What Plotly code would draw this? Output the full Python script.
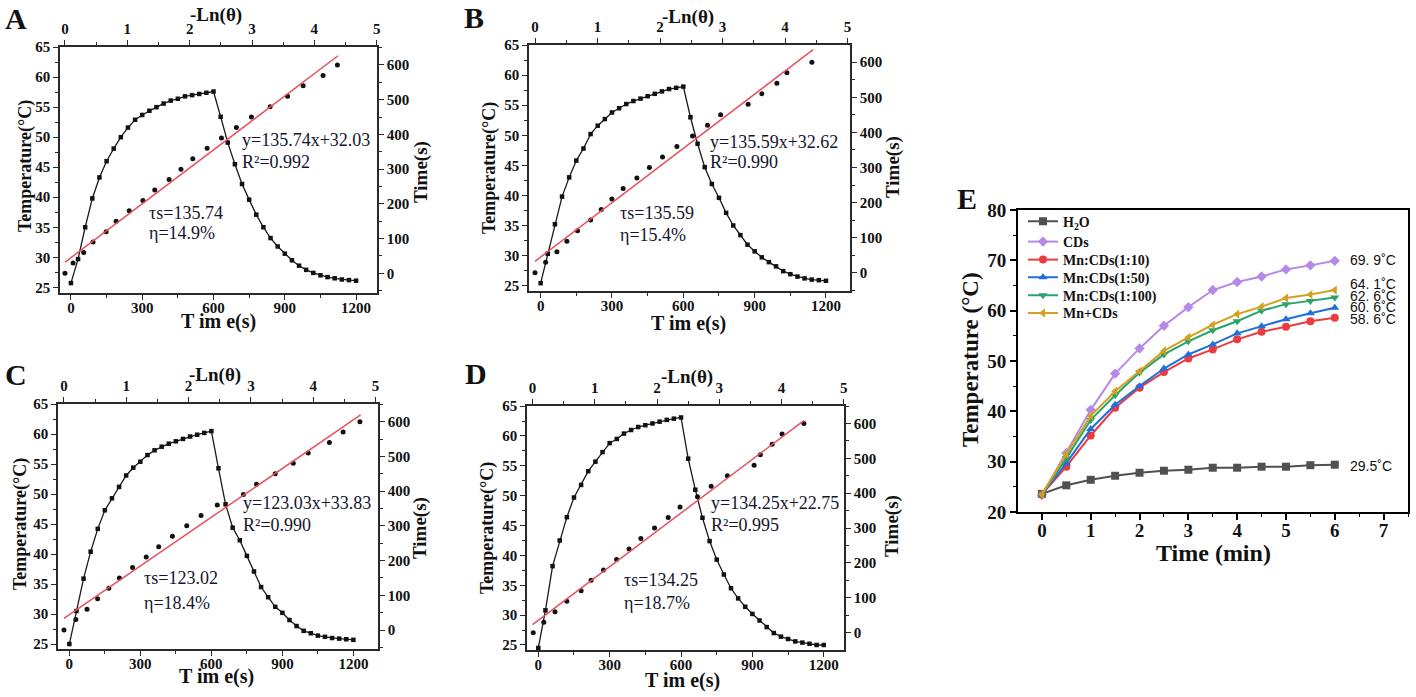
import plotly.graph_objects as go

W, H = 1416, 697
SERIF = "Liberation Serif"
SANS = "Liberation Sans"

# ---------------- Panels A-D: heating / cooling curves ----------------
time_curve = [0, 30, 60, 90, 120, 150, 180, 210, 240, 270, 300, 330, 360, 390, 420,
              450, 480, 510, 540, 570, 600, 630, 660, 690, 720, 750, 780, 810, 840,
              870, 900, 930, 960, 990, 1020, 1050, 1080, 1110, 1140, 1170, 1200]

temp_A = [25.7, 29.7, 35.0, 39.8, 43.3, 46.0, 48.1, 50.0, 51.6, 52.9, 53.7, 54.4, 55.0,
          55.6, 56.1, 56.4, 56.8, 57.0, 57.2, 57.4, 57.6,
          53.4, 49.1, 45.5, 42.2, 39.6, 37.1, 35.0, 33.2, 31.8, 30.6, 29.5, 28.6, 27.9,
          27.4, 27.0, 26.7, 26.5, 26.3, 26.2, 26.1]
temp_B = [25.4, 30.3, 35.2, 39.8, 43.0, 45.8, 47.8, 50.2, 51.6, 52.7, 53.8, 54.5, 55.2,
          55.7, 56.1, 56.5, 56.9, 57.3, 57.7, 57.9, 58.1,
          53.0, 48.6, 44.7, 41.9, 39.6, 37.1, 35.0, 33.4, 31.8, 30.7, 29.7, 28.9, 28.2,
          27.4, 26.9, 26.5, 26.2, 26.0, 25.9, 25.8]
temp_C = [25.0, 30.5, 35.9, 40.4, 44.2, 47.3, 49.3, 51.2, 53.1, 54.4, 55.4, 56.5, 57.3,
          57.9, 58.4, 58.8, 59.2, 59.6, 59.9, 60.2, 60.5,
          54.3, 48.3, 44.4, 42.3, 39.7, 37.1, 34.5, 32.8, 31.2, 30.2, 29.0, 28.0, 27.2,
          26.8, 26.4, 26.2, 26.0, 25.9, 25.8, 25.7]
temp_D = [24.5, 30.8, 38.2, 42.5, 46.4, 49.7, 51.8, 54.1, 55.7, 57.3, 58.8, 59.5, 60.4,
          61.0, 61.5, 61.8, 62.1, 62.4, 62.7, 62.9, 63.1,
          56.2, 51.0, 46.3, 42.4, 39.3, 36.8, 34.5, 32.8, 31.4, 30.2, 29.1, 28.0, 27.0,
          26.4, 26.0, 25.6, 25.4, 25.2, 25.0, 25.0]

# -Ln(theta) vs cooling time points
time_fit = [0, 30, 60, 90, 120, 150, 180, 210, 240, 270, 300, 330, 360, 390, 420,
            450, 480, 510, 540, 570, 600]
lnth_A = [0.00, 0.13, 0.30, 0.45, 0.66, 0.82, 1.03, 1.25, 1.44, 1.67, 1.86, 2.05, 2.28,
          2.51, 2.75, 2.99, 3.29, 3.57, 3.82, 4.14, 4.37]
lnth_B = [0.00, 0.17, 0.35, 0.51, 0.68, 0.89, 1.06, 1.23, 1.41, 1.63, 1.83, 2.04, 2.27,
          2.52, 2.76, 2.97, 3.41, 3.63, 3.87, 4.03, 4.43]
lnth_C = [0.00, 0.19, 0.37, 0.54, 0.72, 0.89, 1.10, 1.32, 1.52, 1.74, 1.97, 2.20, 2.46,
          2.88, 3.09, 3.39, 3.68, 3.92, 4.26, 4.48, 4.75]
lnth_D = [0.01, 0.18, 0.36, 0.55, 0.78, 0.94, 1.14, 1.35, 1.55, 1.74, 1.96, 2.18, 2.37,
          2.65, 2.87, 3.13, 3.56, 3.66, 3.85, 4.01, 4.36]

# linear fits (slope, intercept, x extent of fitted line)
fit_slope = [135.74, 135.59, 123.03, 134.25]
fit_icpt = [32.03, 32.62, 33.83, 22.75]
fit_xmin = [0.0, 0.0, 0.0, 0.0]
fit_xmax = [4.38, 4.45, 4.76, 4.36]

panel_letters = ["A", "B", "C", "D"]
eq_texts = ["y=135.74x+32.03", "y=135.59x+32.62", "y=123.03x+33.83", "y=134.25x+22.75"]
r2_texts = ["R²=0.992", "R²=0.990", "R²=0.990", "R²=0.995"]
tau_texts = ["τs=135.74", "τs=135.59", "τs=123.02", "τs=134.25"]
eta_texts = ["η=14.9%", "η=15.4%", "η=18.4%", "η=18.7%"]

bottom_ticks = [0, 300, 600, 900, 1200]

# ---------------- Panel E ----------------
e_time = [0, 0.5, 1, 1.5, 2, 2.5, 3, 3.5, 4, 4.5, 5, 5.5, 6]
e_h2o = [23.6, 25.3, 26.4, 27.2, 27.8, 28.2, 28.4, 28.8, 28.8, 29.0, 29.0, 29.3, 29.4]
e_cds = [23.4, 31.7, 40.3, 47.5, 52.5, 57.0, 60.7, 64.1, 65.7, 66.8, 68.2, 69.0, 69.9]
e_mn10 = [23.5, 29.0, 35.2, 40.7, 44.7, 47.8, 50.5, 52.3, 54.3, 55.8, 56.8, 57.9, 58.6]
e_mn50 = [23.5, 29.7, 36.5, 41.3, 45.0, 48.5, 51.3, 53.3, 55.5, 56.9, 58.3, 59.5, 60.6]
e_mn100 = [23.5, 30.7, 38.3, 43.2, 47.7, 51.3, 53.9, 56.1, 57.9, 60.0, 61.3, 61.9, 62.6]
e_mncds = [23.5, 31.5, 39.1, 44.0, 48.0, 52.0, 54.7, 57.2, 59.3, 60.8, 62.5, 63.2, 64.1]
e_names = ["H<sub>2</sub>O", "CDs", "Mn:CDs(1:10)", "Mn:CDs(1:50)", "Mn:CDs(1:100)", "Mn+CDs"]
e_end_labels = ["29.5˚C", "69. 9˚C", "58. 6˚C", "60. 6˚C", "62. 6˚C", "64. 1˚C"]

# ---------------- styling / layout (pixels) ----------------
e_colors = ["#505050", "#b48ae6", "#ec3b3e", "#1f6fdc", "#28a46c", "#d4a020"]
e_symbols = ["square", "diamond", "circle", "triangle-up", "triangle-down", "triangle-left"]
e_label_ypos = [29.1, 70.0, 58.3, 60.8, 62.9, 65.3]
e_legend_rows = [221.7, 242.0, 260.0, 277.7, 295.7, 313.3]   # px, row centres

# plot area [left, right, top, bottom] in px
pan_box = [(60, 377, 47, 293), (529, 850, 45, 291), (58, 378, 404, 649), (527, 844, 406, 650)]
pan_xr = [(-46, 1288), (-49, 1301), (-48, 1304), (-47.5, 1285)]
pan_yr = [(24.05, 65.02), (24.1, 65.02), (24.17, 65.02), (24.16, 65.02)]
pan_txr = [(-0.08, 5.005), (-0.096, 5.04), (-0.096, 5.04), (-0.09, 5.005)]
pan_ryr = [(-56.7, 651.8), (-52, 649), (-54.7, 651), (-49.8, 650)]

# annotation positions in px
pos_letter = [(16, 18), (474, 17), (16, 375), (476, 373)]
pos_ylab = [(25, 166), (490, 168), (20, 524), (487, 528)]
pos_rlab = [(421, 172), (893, 167), (420, 528), (892, 526)]
pos_xlab = [(218, 322), (688, 323), (216, 676), (682, 680)]
pos_tlab = [(216, 15), (688, 17), (215, 375), (687, 377)]
pos_eq = [(240, 140), (708, 142), (241, 503), (709, 503)]
pos_r2 = [(240, 162), (708, 162), (241, 525), (709, 525)]
pos_tau = [(147, 213), (618, 213), (142, 578), (622, 580)]
pos_eta = [(147, 233), (618, 235), (142, 603), (622, 603)]

E_BOX = (1018, 1408, 210, 512)


def px_x(v):
    return v / W


def px_y(v):
    return 1 - v / H


def ref(p, n):
    return p if n == 1 else f"{p}{n}"


def lname(p, n):
    return f"{p}axis" if n == 1 else f"{p}axis{n}"


AXC = "#2a2a2a"
tickfont = dict(family=SERIF, size=15, color="#111111", weight="bold")


def base_axis(**kw):
    d = dict(showline=True, linecolor=AXC, linewidth=1.6, ticks="outside", ticklen=5,
             tickwidth=1.4, tickcolor=AXC, showgrid=False, zeroline=False,
             tickfont=tickfont, fixedrange=True, automargin=False)
    d.update(kw)
    return d


fig = go.Figure()
layout = {}
annotations = []


def ann(text, xy, size, anchor="center", angle=0, bold=False, family=SERIF, color="#111111"):
    annotations.append(dict(
        text=text, x=px_x(xy[0]), y=px_y(xy[1]), xref="paper", yref="paper",
        xanchor=anchor, yanchor="middle", showarrow=False, textangle=angle,
        font=dict(family=family, size=size, color=color, weight="bold" if bold else "normal")))


temps = [temp_A, temp_B, temp_C, temp_D]
lnths = [lnth_A, lnth_B, lnth_C, lnth_D]

for i in range(4):
    b = 2 * i + 1
    t = b + 1
    L, R, T, B = pan_box[i]
    xdom = [px_x(L), px_x(R)]
    ydom = [px_y(B), px_y(T)]

    layout[lname("x", b)] = base_axis(domain=xdom, range=list(pan_xr[i]), anchor=ref("y", b),
                                      side="bottom", tickmode="array", tickvals=bottom_ticks,
                                      ticklabelstandoff=-5,
                                      minor=dict(tick0=0, dtick=150, ticks="outside", ticklen=3,
                                                 tickcolor=AXC, tickwidth=1))
    layout[lname("y", b)] = base_axis(domain=ydom, range=list(pan_yr[i]), anchor=ref("x", b),
                                      side="left", tick0=25, dtick=5,
                                      minor=dict(tick0=25, dtick=2.5, ticks="outside", ticklen=3,
                                                 tickcolor=AXC, tickwidth=1))
    layout[lname("x", t)] = base_axis(range=list(pan_txr[i]), overlaying=ref("x", b),
                                      anchor=ref("y", b), side="top", tick0=0, dtick=1,
                                      minor=dict(tick0=0, dtick=0.5, ticks="outside", ticklen=3,
                                                 tickcolor=AXC, tickwidth=1))
    layout[lname("y", t)] = base_axis(range=list(pan_ryr[i]), overlaying=ref("y", b),
                                      anchor=ref("x", b), side="right", tick0=0, dtick=100,
                                      minor=dict(tick0=0, dtick=50, ticks="outside", ticklen=3,
                                                 tickcolor=AXC, tickwidth=1))

    # heating / cooling curve
    fig.add_trace(go.Scatter(x=time_curve, y=temps[i], mode="lines+markers",
                             line=dict(color="#1a1a1a", width=1.3),
                             marker=dict(symbol="square", size=4.5, color="#111111"),
                             xaxis=ref("x", b), yaxis=ref("y", b), showlegend=False,
                             hoverinfo="skip"))
    # -Ln(theta) points
    fig.add_trace(go.Scatter(x=lnths[i], y=time_fit, mode="markers",
                             marker=dict(symbol="circle", size=5, color="#111111"),
                             xaxis=ref("x", t), yaxis=ref("y", t), showlegend=False,
                             hoverinfo="skip"))
    # fitted line from its equation
    fx = [fit_xmin[i], fit_xmax[i]]
    fy = [fit_slope[i] * v + fit_icpt[i] for v in fx]
    fig.add_trace(go.Scatter(x=fx, y=fy, mode="lines",
                             line=dict(color="#e8505c", width=1.5),
                             xaxis=ref("x", t), yaxis=ref("y", t), showlegend=False,
                             hoverinfo="skip"))

    ann(panel_letters[i], pos_letter[i], 30, bold=True)
    ann("Temperature(°C)", pos_ylab[i], 18, angle=-90, bold=True)
    ann("Time(s)", pos_rlab[i], 19, angle=-90, bold=True)
    ann("T im e(s)", pos_xlab[i], 20, bold=True)
    ann("-Ln(θ)", pos_tlab[i], 19, bold=True)
    ann(eq_texts[i], pos_eq[i], 18, anchor="left", color="#15152e")
    ann(r2_texts[i], pos_r2[i], 18, anchor="left", color="#15152e")
    ann(tau_texts[i], pos_tau[i], 18, anchor="left", color="#15152e")
    ann(eta_texts[i], pos_eta[i], 18, anchor="left", color="#15152e")

# ---------------- Panel E ----------------
eL, eR, eT, eB = E_BOX
etick = dict(family=SERIF, size=19, color="#111111", weight="bold")
layout["xaxis9"] = dict(domain=[px_x(eL), px_x(eR)], range=[-0.49, 7.5], anchor="y9",
                        showline=True, mirror=True, linecolor="black", linewidth=2,
                        ticks="outside", ticklen=6, tickwidth=1.6, tickcolor="black",
                        tick0=0, dtick=1, showgrid=False, zeroline=False, tickfont=etick,
                        ticklabelstandoff=-6,
                        minor=dict(tick0=0, dtick=0.5, ticks="outside", ticklen=3,
                                   tickcolor="black", tickwidth=1.2),
                        fixedrange=True, automargin=False)
layout["yaxis9"] = dict(domain=[px_y(eB), px_y(eT)], range=[20, 80.001], anchor="x9",
                        showline=True, mirror=True, linecolor="black", linewidth=2,
                        ticks="outside", ticklen=6, tickwidth=1.6, tickcolor="black",
                        tick0=20, dtick=10, showgrid=False, zeroline=False, tickfont=etick,
                        minor=dict(tick0=20, dtick=5, ticks="outside", ticklen=3,
                                   tickcolor="black", tickwidth=1.2),
                        fixedrange=True, automargin=False)

e_series = [e_h2o, e_cds, e_mn10, e_mn50, e_mn100, e_mncds]
for k, ys in enumerate(e_series):
    lg = "legend" if k == 0 else f"legend{k + 1}"
    fig.add_trace(go.Scatter(x=e_time, y=ys, mode="lines+markers", name=e_names[k],
                             line=dict(color=e_colors[k], width=2),
                             marker=dict(symbol=e_symbols[k], size=8, color=e_colors[k]),
                             xaxis="x9", yaxis="y9", hoverinfo="skip", legend=lg))
    annotations.append(dict(text=e_end_labels[k], x=6.27, y=e_label_ypos[k], xref="x9",
                            yref="y9", xanchor="left", yanchor="middle", showarrow=False,
                            font=dict(family=SANS, size=14, color="#111111")))
    layout[lg] = dict(x=px_x(1023), y=px_y(e_legend_rows[k]), xanchor="left",
                      yanchor="middle", bgcolor="rgba(0,0,0,0)", borderwidth=0,
                      font=dict(family=SERIF, size=14, color="#111111", weight="bold"),
                      itemwidth=30)

ann("E", (967, 198), 30, bold=True)
ann("Temperature (°C)", (970, 360), 23, angle=-90, bold=True)
ann("Time (min)", (1213, 553), 24, bold=True)

fig.update_layout(
    width=W, height=H, margin=dict(l=0, r=0, t=0, b=0, autoexpand=False),
    paper_bgcolor="white", plot_bgcolor="rgba(0,0,0,0)",
    showlegend=True,
    annotations=annotations,
    **layout,
)

fig.write_html("out.html", config={"displayModeBar": False},
               post_script="document.body.style.margin='0';document.body.style.padding='0';")
